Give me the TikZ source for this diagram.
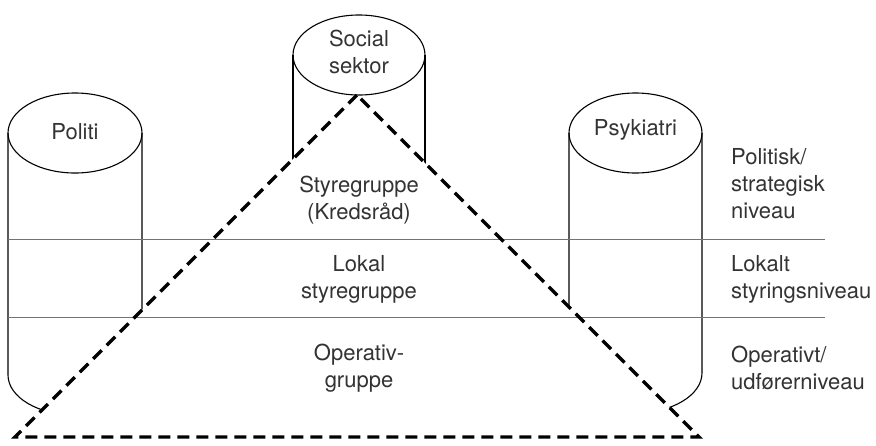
\documentclass[tikz,border=0pt]{standalone}
\usepackage{fontspec}
\setmainfont{TeX Gyre Heros}
\begin{document}
\begin{tikzpicture}[x=1pt,y=-1pt]
 \tikzset{txt/.style={text=black!80, font=\fontsize{22}{27}\selectfont, align=center, inner sep=0pt},
   lvl/.style={txt, align=left, anchor=west},
   wall/.style={line width=1.1pt},
   divider/.style={line width=1pt, black!55},
   frame/.style={line width=3.2pt, dash pattern=on 12pt off 7pt, line join=miter}}
 \useasboundingbox (0,0) rectangle (876,445);
 \draw[wall] (293,55) -- (293,200) (425,55) -- (425,200);
 \draw[wall] (359,55) ellipse [x radius=66, y radius=40];
 \draw[wall] (8,133) -- (8,375) arc[start angle=180, end angle=0, x radius=67, y radius=40] -- (142,133);
 \draw[wall] (75,133) ellipse [x radius=67, y radius=40];
 \draw[wall] (569,133) -- (569,373) arc[start angle=180, end angle=0, x radius=66.5, y radius=40] -- (702,133);
 \draw[wall] (635.5,133) ellipse [x radius=66.5, y radius=40];
 \coordinate (apex) at (357,95);
 \coordinate (left) at (15,437);
 \coordinate (right) at (699,437);
 \fill[white] (apex) -- (left) -- (right) -- cycle;
 \coordinate (d1a) at (8,239);
 \coordinate (d1b) at (825,239);
 \coordinate (d2a) at (8,317);
 \coordinate (d2b) at (825,317);
 \draw[divider] (d1a) -- (d1b);
 \draw[divider] (d2a) -- (d2b);
 \draw[frame] (apex) -- (left) -- (right) -- cycle;
 \node[txt] (social) at (359,52) {Social\\sektor};
 \node[txt] (politi) at (75,132) {Politi};
 \node[txt] (psyk) at (635.5,130) {Psykiatri};
 \node[txt] (styre) at (359,200) {Styregruppe\\(Kredsråd)};
 \node[txt] (lokal) at (359,279) {Lokal\\styregruppe};
 \node[txt] (oper) at (359,368) {Operativ-\\gruppe};
 \node[lvl] (niv1) at (731,184) {Politisk/\\strategisk\\niveau};
 \node[lvl] (niv2) at (731,279) {Lokalt\\styringsniveau};
 \node[lvl] (niv3) at (731,368) {Operativt/\\udførerniveau};
\end{tikzpicture}
\end{document}
